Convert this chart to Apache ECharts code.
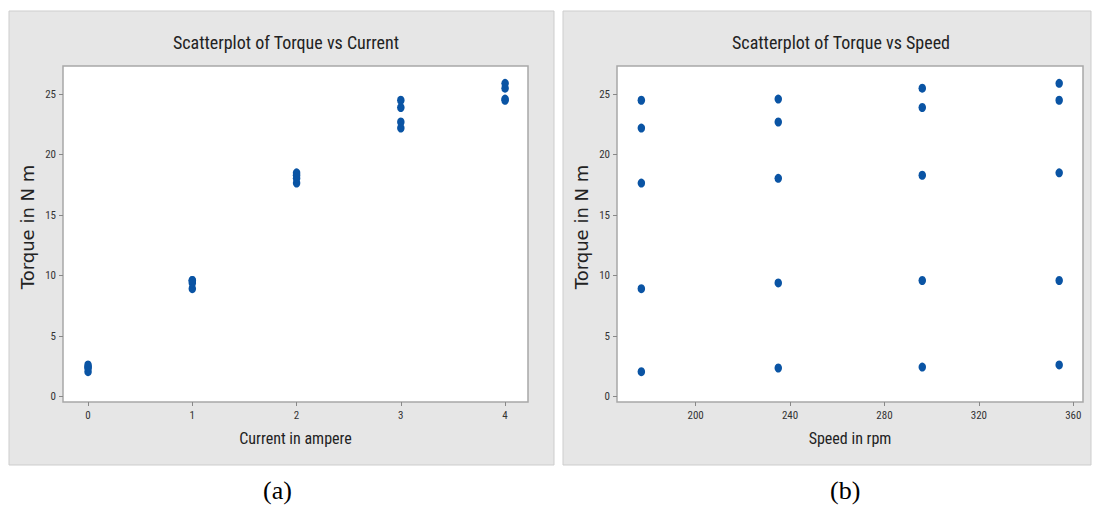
<!DOCTYPE html>
<html>
<head>
<meta charset="utf-8">
<script src="https://cdn.jsdelivr.net/npm/echarts@6/dist/echarts.min.js"></script>
<style>
  html, body { margin: 0; padding: 0; background: #ffffff; }
  #chart { width: 1100px; height: 510px; }
</style>
</head>
<body>
<div id="chart"></div>
<script>
// ---- data ----
const currents = [0, 1, 2, 3, 4];               // ampere
const speeds = [177, 235, 296, 354];             // rpm
// torque (N m): one row per current, one column per speed
const torqueAt0A = [2.07, 2.37, 2.45, 2.62];
const torqueAt1A = [8.93, 9.40, 9.60, 9.60];
const torqueAt2A = [17.65, 18.05, 18.30, 18.50];
const torqueAt3A = [22.20, 22.70, 23.90, 24.50];
const torqueAt4A = [24.50, 24.60, 25.50, 25.90];
const torqueTicks = [0, 5, 10, 15, 20, 25];
const currentTicks = [0, 1, 2, 3, 4];
const speedTicks = [200, 240, 280, 320, 360];

const torqueRows = [torqueAt0A, torqueAt1A, torqueAt2A, torqueAt3A, torqueAt4A];
const currentData = [];
const speedData = [];
torqueRows.forEach((row, i) => {
  row.forEach((t, j) => {
    currentData.push([currents[i], t]);
    speedData.push([speeds[j], t]);
  });
});

const NARROW = "'Liberation Sans Narrow','Arial Narrow','Roboto Condensed','Open Sans',sans-serif";
const WIDE = "DejaVu Sans";
const MARK = '#0a54a4';

function xAxisDef(grid, name, min, max, ticks) {
  return {
    gridIndex: grid, type: 'value', min: min, max: max,
    name: name, nameLocation: 'middle', nameGap: 28,
    nameTextStyle: { fontFamily: NARROW, fontSize: 16, color: '#222' },
    axisLine: { show: false, onZero: false },
    axisTick: { show: true, length: 4, inside: false, customValues: ticks, lineStyle: { color: '#888' } },
    axisLabel: { customValues: ticks, fontFamily: NARROW, fontSize: 11, color: '#333', margin: 8 },
    splitLine: { show: false }
  };
}
function yAxisDef(grid) {
  return {
    gridIndex: grid, type: 'value', min: -0.44, max: 27.33,
    name: 'Torque in N m', nameLocation: 'middle', nameGap: 27, nameRotate: 90,
    nameTextStyle: { fontFamily: WIDE, fontSize: 18, color: '#222', padding: [0, 0, 0, 14] },
    axisLine: { show: false, onZero: false },
    axisTick: { show: true, length: 4, customValues: torqueTicks, lineStyle: { color: '#888' } },
    axisLabel: { customValues: torqueTicks, fontFamily: NARROW, fontSize: 11, color: '#333', margin: 7 },
    splitLine: { show: false }
  };
}

const chart = echarts.init(document.getElementById('chart'), null, { renderer: 'svg' });
chart.setOption({
  animation: false,
  backgroundColor: '#ffffff',
  graphic: [
    { type: 'rect', z: -10, shape: { x: 9, y: 11, width: 545, height: 454 },
      style: { fill: '#e6e6e6', stroke: '#cdcdcd', lineWidth: 1 } },
    { type: 'rect', z: -10, shape: { x: 563, y: 11, width: 528, height: 454 },
      style: { fill: '#e6e6e6', stroke: '#cdcdcd', lineWidth: 1 } },
    { type: 'text', left: 263, top: 477,
      style: { text: '(a)', font: "26px 'Liberation Serif', serif", fill: '#000' } },
    { type: 'text', left: 830, top: 477,
      style: { text: '(b)', font: "26px 'Liberation Serif', serif", fill: '#000' } }
  ],
  title: [
    { text: 'Scatterplot of Torque vs Current', left: 281, top: 28, textAlign: 'center',
      textStyle: { fontFamily: NARROW, fontSize: 18, fontWeight: 'normal', color: '#222' } },
    { text: 'Scatterplot of Torque vs Speed', left: 836, top: 28, textAlign: 'center',
      textStyle: { fontFamily: NARROW, fontSize: 18, fontWeight: 'normal', color: '#222' } }
  ],
  grid: [
    { left: 63, top: 66, width: 465, height: 336, show: true, backgroundColor: '#ffffff',
      borderColor: '#a8a8a8', borderWidth: 1.5 },
    { left: 617, top: 66, width: 466, height: 336, show: true, backgroundColor: '#ffffff',
      borderColor: '#a8a8a8', borderWidth: 1.5 }
  ],
  xAxis: [
    xAxisDef(0, 'Current in ampere', -0.24, 4.22, currentTicks),
    xAxisDef(1, 'Speed in rpm', 166.7, 364.1, speedTicks)
  ],
  yAxis: [yAxisDef(0), yAxisDef(1)],
  series: [
    { type: 'scatter', xAxisIndex: 0, yAxisIndex: 0, data: currentData,
      symbol: 'circle', symbolSize: [7.5, 9], itemStyle: { color: MARK, opacity: 1 } },
    { type: 'scatter', xAxisIndex: 1, yAxisIndex: 1, data: speedData,
      symbol: 'circle', symbolSize: [7.5, 9], itemStyle: { color: MARK, opacity: 1 } }
  ]
});
</script>
</body>
</html>
